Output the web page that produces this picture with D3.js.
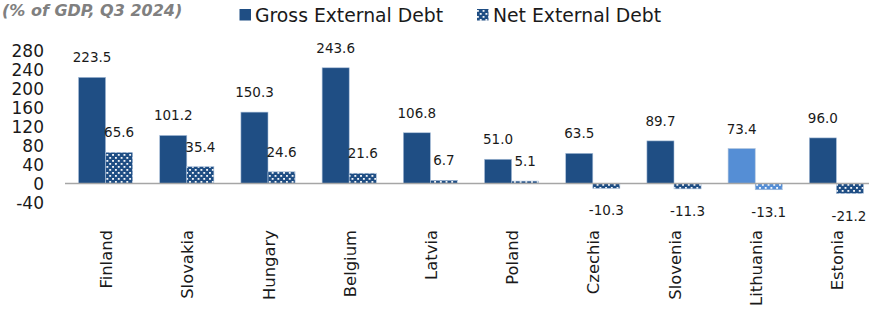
<!DOCTYPE html>
<html>
<head>
<meta charset="utf-8">
<script src="https://cdn.jsdelivr.net/npm/d3@7"></script>
<style>
  html, body { margin: 0; padding: 0; background: #fff; }
  svg { display: block; font-family: "DejaVu Sans", sans-serif; }
</style>
</head>
<body>
<svg id="chart" width="869" height="309"></svg>
<script>
const categories = ["Finland", "Slovakia", "Hungary", "Belgium", "Latvia", "Poland", "Czechia", "Slovenia", "Lithuania", "Estonia"];
const grossDebt = [223.5, 101.2, 150.3, 243.6, 106.8, 51.0, 63.5, 89.7, 73.4, 96.0];
const netDebt = [65.6, 35.4, 24.6, 21.6, 6.7, 5.1, -10.3, -11.3, -13.1, -21.2];
const yTicks = [280, 240, 200, 160, 120, 80, 40, 0, -40];
const seriesNames = ["Gross External Debt", "Net External Debt"];
const highlight = "Lithuania";
const titleText = "(% of GDP, Q3 2024)";

const svg = d3.select("#chart");
const W = 869, H = 309;
svg.append("rect").attr("width", W).attr("height", H).attr("fill", "#fff");

const dark = "#1f4e84", light = "#558ed5";

const defs = svg.append("defs");
function makePattern(id, color) {
  const p = defs.append("pattern").attr("id", id).attr("patternUnits", "userSpaceOnUse")
    .attr("width", 5.7).attr("height", 6).attr("x", 0).attr("y", 0);
  p.append("rect").attr("width", 5.7).attr("height", 6).attr("fill", color);
  p.append("rect").attr("x", 1).attr("y", 1).attr("width", 1.8).attr("height", 1.8).attr("fill", "#fff");
  p.append("rect").attr("x", 3.85).attr("y", 4).attr("width", 1.8).attr("height", 1.8).attr("fill", "#fff");
}
makePattern("dotsDark", dark);
makePattern("dotsLight", light);

const y = d3.scaleLinear().domain([-40, 280]).range([202.5, 50.5]);
const x = d3.scaleBand().domain(categories).range([65, 877]).paddingInner(0.333).paddingOuter(0.1665);
const xs = d3.scaleBand().domain(["gross", "net"]).range([0, x.bandwidth()]);

// title
svg.append("text").attr("x", 2).attr("y", 16).attr("text-anchor", "start")
  .attr("font-size", 16).attr("font-weight", "bold").attr("font-style", "italic")
  .attr("fill", "#808080").text(titleText);

// legend
const leg = [
  {x: 239.5, fill: dark, tx: 255},
  {x: 477, fill: "url(#dotsDark)", tx: 493}
];
leg.forEach((l, i) => {
  svg.append("rect").attr("x", l.x).attr("y", 9).attr("width", 11.5).attr("height", 11.5).attr("fill", l.fill);
  svg.append("text").attr("x", l.tx).attr("y", 21.5).attr("font-size", 18.8).attr("fill", "#1a1a1a").text(seriesNames[i]);
});

// y axis labels
svg.append("g").selectAll("text").data(yTicks).join("text")
  .attr("x", 44).attr("y", d => y(d)).attr("dy", "0.36em").attr("text-anchor", "end")
  .attr("font-size", 17).attr("fill", "#1a1a1a").text(d => String(d));

const data = categories.map((c, i) => ({c, gross: grossDebt[i], net: netDebt[i]}));

// bars
const g = svg.append("g");
data.forEach(d => {
  const hl = d.c === highlight;
  const gx = x(d.c) + xs("gross"), nx = x(d.c) + xs("net"), bw = xs.bandwidth();
  g.append("rect").attr("x", gx).attr("width", bw)
    .attr("y", y(Math.max(0, d.gross))).attr("height", Math.abs(y(d.gross) - y(0)))
    .attr("fill", hl ? light : dark).attr("stroke", "#a9bfd9").attr("stroke-width", 0.6);
  g.append("rect").attr("x", nx).attr("width", bw)
    .attr("y", y(Math.max(0, d.net))).attr("height", Math.abs(y(d.net) - y(0)))
    .attr("fill", hl ? "url(#dotsLight)" : "url(#dotsDark)").attr("stroke", "#a9bfd9").attr("stroke-width", 0.6);
});

// zero line
svg.append("line").attr("x1", 65).attr("x2", 877).attr("y1", y(0)).attr("y2", y(0))
  .attr("stroke", "#a6a6a6").attr("stroke-width", 1.6);

// data labels
const lab = svg.append("g").attr("font-size", 13.5).attr("fill", "#1a1a1a").attr("text-anchor", "middle");
data.forEach(d => {
  const bw = xs.bandwidth();
  [["gross", d.gross], ["net", d.net]].forEach(([k, v]) => {
    const cx = Math.min(x(d.c) + xs(k) + bw / 2, 849);
    const yy = v >= 0 ? y(v) - 15 : y(v) + 27;
    lab.append("text").attr("x", cx).attr("y", yy).text(v.toFixed(1));
  });
});

// category labels
svg.append("g").selectAll("text").data(categories).join("text")
  .attr("transform", d => `translate(${x(d) + x.bandwidth() / 2},230) rotate(-90)`)
  .attr("dy", "0.4em").attr("text-anchor", "end").attr("font-size", 16.4).attr("fill", "#1a1a1a")
  .text(d => d);
</script>
</body>
</html>
